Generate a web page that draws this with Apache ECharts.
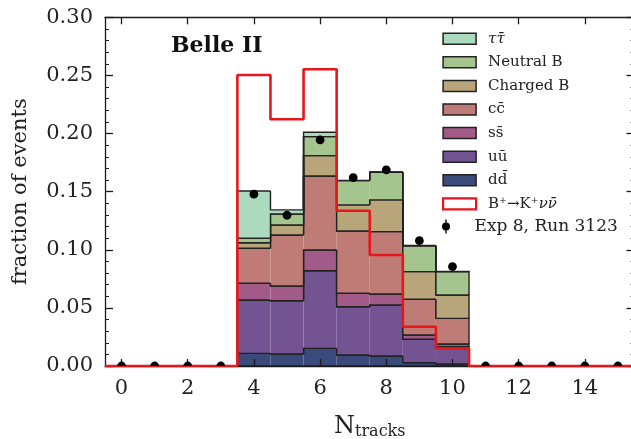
<!DOCTYPE html>
<html>
<head>
<meta charset="utf-8">
<script src="https://cdn.jsdelivr.net/npm/echarts@6/dist/echarts.min.js"></script>
<style>
  html, body { margin: 0; padding: 0; background: #fff; }
  #chart { width: 631px; height: 439px; }
</style>
</head>
<body>
<div id="chart"></div>
<script>
// Bin centres (N_tracks) that carry simulated background
const binX = [4, 5, 6, 7, 8, 9, 10];

// Background components per bin (fraction of events), stacked bottom to top
const ddbar    = [0.0109, 0.0103, 0.0152, 0.0095, 0.0086, 0.0028, 0.0017];
const uubar    = [0.0459, 0.0459, 0.0668, 0.0415, 0.0439, 0.0202, 0.0149];
const ssbar    = [0.0144, 0.0126, 0.0178, 0.0116, 0.0095, 0.0037, 0.0023];
const ccbar    = [0.0301, 0.0439, 0.0637, 0.0536, 0.0536, 0.0307, 0.0221];
const chargedB = [0.0048, 0.0086, 0.0175, 0.0224, 0.0273, 0.0238, 0.0201];
const neutralB = [0.0038, 0.0095, 0.0163, 0.0209, 0.0238, 0.0223, 0.0201];
const tautau   = [0.0407, 0.0035, 0.0038, 0.0002, 0.0002, 0.0002, 0.0001];

// Signal B+ -> K+ nu nubar, per bin 0..15
const signalX = [0, 1, 2, 3, 4, 5, 6, 7, 8, 9, 10, 11, 12, 13, 14, 15];
const signal  = [0, 0, 0, 0, 0.2504, 0.2123, 0.2553, 0.1336, 0.0955, 0.0338, 0.0152, 0, 0, 0, 0, 0];

// Data (Exp 8, Run 3123), per bin 0..15
const dataX = [0, 1, 2, 3, 4, 5, 6, 7, 8, 9, 10, 11, 12, 13, 14, 15];
const dataY = [0, 0, 0, 0, 0.1478, 0.1297, 0.1945, 0.1620, 0.1687, 0.1078, 0.0855, 0, 0, 0, 0, 0];

// Axis ticks
const xTicks = [0, 2, 4, 6, 8, 10, 12, 14];

const FONT = 'DejaVu Serif';
const EDGE = '#222222';

const layers = [
  { name: 'ddbar',    values: ddbar,    color: '#3a4a7b' },
  { name: 'uubar',    values: uubar,    color: '#735391' },
  { name: 'ssbar',    values: ssbar,    color: '#a25b89' },
  { name: 'ccbar',    values: ccbar,    color: '#bf7b75' },
  { name: 'chargedB', values: chargedB, color: '#b8a67a' },
  { name: 'neutralB', values: neutralB, color: '#a4c68e' },
  { name: 'tautau',   values: tautau,   color: '#acdabe' }
];

// One bin of a stacked step-filled layer: fill plus outline of its top and bottom steps
function renderLayerBin(params, api) {
  const x = api.value(0), lo = api.value(1), hi = api.value(2);
  const pLo = api.value(3), pHi = api.value(4), last = api.value(5);
  const a = api.coord([x - 0.5, lo]);
  const b = api.coord([x + 0.5, hi]);
  const xl = a[0], xr = b[0], yLo = a[1], yHi = b[1];
  const yPLo = api.coord([x, pLo])[1];
  const yPHi = api.coord([x, pHi])[1];
  const line = { stroke: EDGE, lineWidth: 1.4, fill: 'none' };
  const top = [[xl, yPHi], [xl, yHi], [xr, yHi]];
  if (last) top.push([xr, yLo]);
  return {
    type: 'group',
    children: [
      { type: 'rect', shape: { x: xl, y: yHi, width: xr - xl, height: yLo - yHi },
        style: { fill: api.visual('color') } },
      { type: 'polyline', shape: { points: [[xl, yPLo], [xl, yLo], [xr, yLo]] }, style: line },
      { type: 'polyline', shape: { points: top }, style: line }
    ]
  };
}

const series = [];
let base = binX.map(() => 0);
layers.forEach(layer => {
  const lower = base.slice();
  const upper = lower.map((v, i) => v + layer.values[i]);
  const items = binX.map((x, i) => [
    x, lower[i], upper[i],
    i > 0 ? lower[i - 1] : lower[i],
    i > 0 ? upper[i - 1] : lower[i],
    i === binX.length - 1 ? 1 : 0
  ]);
  series.push({
    type: 'custom', name: layer.name, renderItem: renderLayerBin,
    data: items, itemStyle: { color: layer.color }, z: 2, clip: true,
    encode: { x: 0, y: [1, 2] }
  });
  base = upper;
});

// Signal histogram as a step outline along bin edges
const signalSteps = signalX.map((x, i) => [x - 0.5, signal[i]]);
signalSteps.push([signalX[signalX.length - 1] + 0.5, 0]);
series.push({
  type: 'line', name: 'signal', step: 'end', data: signalSteps,
  symbol: 'none', clip: true, z: 8,
  lineStyle: { color: '#e8151b', width: 2.6 },
  itemStyle: { color: '#e8151b' }
});

// Data points (clipped at the axes frame)
series.push({
  type: 'custom', name: 'data', clip: true, z: 9,
  data: dataX.map((x, i) => [x, dataY[i]]),
  itemStyle: { color: '#000' },
  renderItem: function (params, api) {
    const p = api.coord([api.value(0), api.value(1)]);
    return { type: 'circle', shape: { cx: p[0], cy: p[1], r: 4.4 }, style: { fill: '#000' } };
  }
});

const legendLabels = {
  tautau:   '{i|ττ\u0304}',
  neutralB: 'Neutral B',
  chargedB: 'Charged B',
  ccbar:    'cc\u0304',
  ssbar:    'ss\u0304',
  uubar:    'uu\u0304',
  ddbar:    'dd\u0304',
  signal:   'B⁺→K⁺{i|νν\u0304}',
  data:     'Exp 8, Run 3123'
};

const legendText = {
  fontFamily: FONT, fontSize: 15, color: '#222', lineHeight: 16,
  padding: [0, 0, 0, 7],
  rich: { i: { fontFamily: FONT, fontSize: 15, fontStyle: 'italic', lineHeight: 16 } }
};

const dataLegendText = {
  fontFamily: FONT, fontSize: 17, color: '#222', lineHeight: 16,
  padding: [0, 0, 0, 7]
};

const stackLegend = layers.slice().reverse().map(l => ({
  name: l.name, icon: 'rect',
  itemStyle: { color: l.color, borderColor: EDGE, borderWidth: 1.5 }
}));
stackLegend.push({
  name: 'signal', icon: 'rect',
  itemStyle: { color: '#fff', borderColor: '#e8151b', borderWidth: 2.2 }
});

const axisLineStyle = { color: '#1a1a1a', width: 1.3 };

const option = {
  backgroundColor: '#fff',
  animation: false,
  title: {
    text: 'Belle II', left: 171, top: 35, padding: 0,
    textStyle: { fontFamily: FONT, fontWeight: 'bold', fontSize: 22, color: '#111' }
  },
  grid: {
    left: 105, top: 17.3, width: 529.5, bottom: 73,
    containLabel: false, outerBoundsMode: 'none'
  },
  legend: [
    {
      orient: 'vertical', left: 442, top: 30.7, padding: 0,
      itemWidth: 33, itemHeight: 11, itemGap: 7.6,
      selectedMode: false, data: stackLegend,
      formatter: name => legendLabels[name], textStyle: legendText
    },
    {
      orient: 'vertical', left: 442, top: 218, padding: 0,
      itemWidth: 33, itemHeight: 14, selectedMode: false,
      data: [{
        name: 'data',
        icon: 'path://M3.3,0 L4.7,0 L4.7,14 L3.3,14 Z M0,7 A4,4 0 1 1 8,7 A4,4 0 1 1 0,7 Z',
        itemStyle: { color: '#000' }
      }],
      formatter: name => legendLabels[name], textStyle: dataLegendText
    }
  ],
  xAxis: [
    {
      type: 'value', position: 'bottom', min: -0.5, max: 15.5, z: 5,
      axisLine: { show: true, onZero: false, lineStyle: axisLineStyle },
      axisTick: { show: true, inside: true, length: 7, customValues: xTicks, lineStyle: axisLineStyle },
      axisLabel: { customValues: xTicks, fontFamily: FONT, fontSize: 21, color: '#222', margin: 12 },
      splitLine: { show: false },
      name: '{n|N}{s|tracks}', nameLocation: 'middle', nameGap: 45,
      nameTextStyle: {
        rich: {
          n: { fontFamily: FONT, fontSize: 24, color: '#222', lineHeight: 32 },
          s: { fontFamily: FONT, fontSize: 16, color: '#222', lineHeight: 16, verticalAlign: 'bottom', padding: [0, 0, 3, 0] }
        }
      }
    },
    {
      type: 'value', position: 'top', min: -0.5, max: 15.5, z: 5,
      axisLine: { show: true, onZero: false, lineStyle: axisLineStyle },
      axisTick: { show: true, inside: true, length: 7, customValues: xTicks, lineStyle: axisLineStyle },
      axisLabel: { show: false },
      splitLine: { show: false }
    }
  ],
  yAxis: [
    {
      type: 'value', position: 'left', min: 0, max: 0.3, interval: 0.05, z: 5,
      axisLine: { show: true, onZero: false, lineStyle: axisLineStyle },
      axisTick: { show: true, inside: true, length: 8, lineStyle: axisLineStyle },
      minorTick: { show: true, splitNumber: 5, length: 4, lineStyle: { color: '#1a1a1a', width: 1 } },
      axisLabel: { formatter: v => v.toFixed(2), fontFamily: FONT, fontSize: 21, color: '#222', margin: 12 },
      splitLine: { show: false },
      name: 'fraction of events', nameLocation: 'middle', nameGap: 74,
      nameTextStyle: { fontFamily: FONT, fontSize: 21, color: '#222' }
    },
    {
      type: 'value', position: 'right', min: 0, max: 0.3, interval: 0.05, z: 5,
      axisLine: { show: true, onZero: false, lineStyle: axisLineStyle },
      axisTick: { show: true, inside: true, length: 8, lineStyle: axisLineStyle },
      minorTick: { show: true, splitNumber: 5, length: 4, lineStyle: { color: '#1a1a1a', width: 1 } },
      axisLabel: { show: false },
      splitLine: { show: false }
    }
  ],
  series: series
};

const chart = echarts.init(document.getElementById('chart'), null, { renderer: 'canvas' });
chart.setOption(option);
</script>
</body>
</html>
